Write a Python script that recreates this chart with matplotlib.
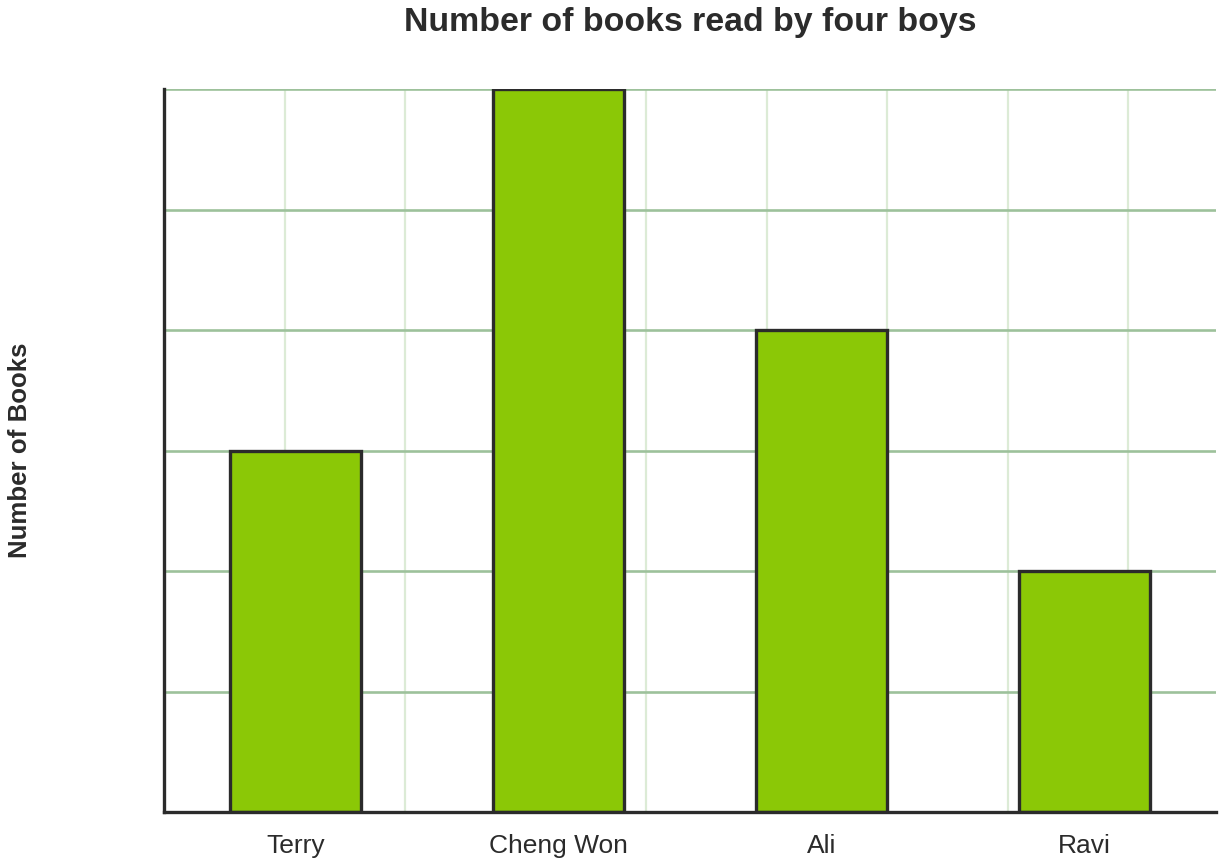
import numpy as np
import matplotlib.pyplot as plt

# data
boys = ["Terry", "Cheng Won", "Ali", "Ravi"]
books = [3, 6, 4, 2]

Y_MAX = 6

BAR_COLOR = "#8bc806"
EDGE_COLOR = "#2b2b2b"
TEXT_COLOR = "#2b2b2b"
MAJOR_GRID = "#9dc19b"
MINOR_GRID = "#dcebd6"


def main():
    plt.rcParams["font.family"] = ["Liberation Sans", "DejaVu Sans"]

    fig = plt.figure(figsize=(12.24, 8.66), dpi=100)
    left, right = 164 / 1224, 1216 / 1224
    bottom, top = 1 - 812 / 866, 1 - 89 / 866
    ax = fig.add_axes([left, bottom, right - left, top - bottom])

    x = np.arange(len(boys))
    ax.bar(x, books, width=0.5, color=BAR_COLOR, edgecolor=EDGE_COLOR,
           linewidth=2.4, zorder=3)

    ax.set_xlim(-0.5, len(boys) - 0.5)
    ax.set_ylim(0, Y_MAX)

    # square grid: vertical lines spaced like one y unit on screen
    fig_w, fig_h = fig.get_size_inches() * fig.dpi
    ax_w = (right - left) * fig_w
    ax_h = (top - bottom) * fig_h
    step = (ax_h / Y_MAX) / (ax_w / len(boys))
    for xv in np.arange(-0.5 + step, len(boys) - 0.5, step):
        ax.axvline(xv, color=MINOR_GRID, linewidth=1.6, zorder=1)
    for yv in range(1, Y_MAX + 1):
        ax.axhline(yv, color=MAJOR_GRID, linewidth=1.9, zorder=2)

    ax.set_xticks(x)
    ax.set_xticklabels(boys, fontsize=19, color=TEXT_COLOR)
    ax.tick_params(axis="x", length=0, pad=16)
    ax.set_yticks([])

    for side in ["top", "right"]:
        ax.spines[side].set_visible(False)
    for side in ["left", "bottom"]:
        ax.spines[side].set_color(EDGE_COLOR)
        ax.spines[side].set_linewidth(2.4)
        ax.spines[side].set_zorder(4)

    fig.text(20 / 1224, 1 - 450 / 866, "Number of Books", rotation=90,
             ha="center", va="center", fontsize=18.6, fontweight="bold",
             color=TEXT_COLOR)
    fig.text(690 / 1224, 1 - 23 / 866, "Number of books read by four boys",
             ha="center", va="center", fontsize=24.4, fontweight="bold",
             color=TEXT_COLOR)

    fig.savefig("out.png", dpi=100)


if __name__ == "__main__":
    main()
